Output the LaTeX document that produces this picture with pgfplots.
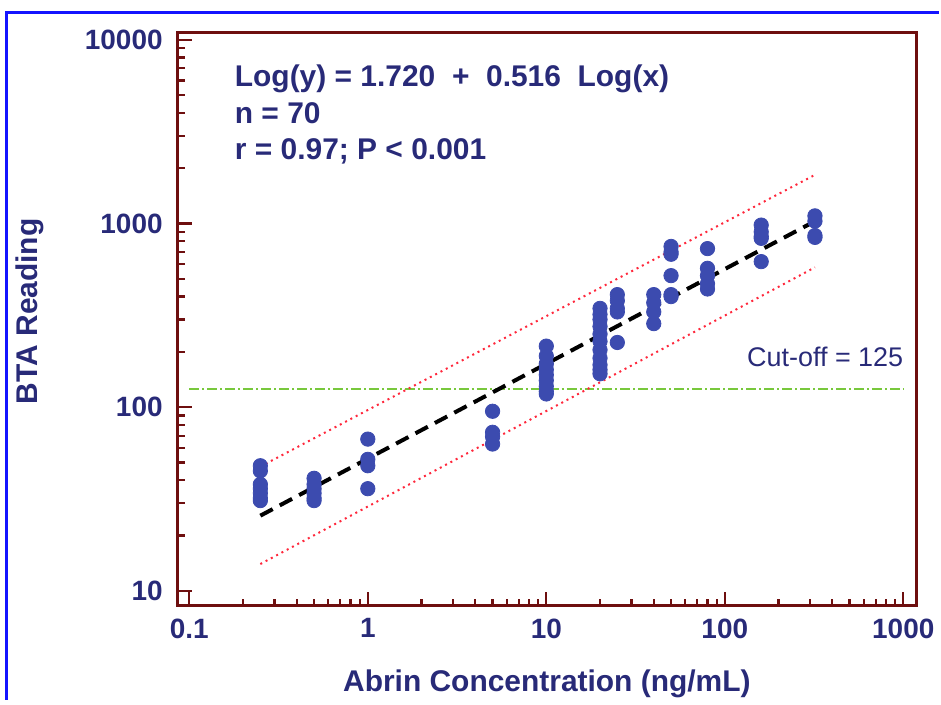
\documentclass[border=0pt]{standalone}
\usepackage{fontspec}
\setmainfont{Liberation Sans}
\usepackage{pgfplots}
\pgfplotsset{compat=1.18}
\usetikzlibrary{calc}
\definecolor{navy}{RGB}{40,42,120}
\definecolor{axred}{RGB}{110,15,15}
\definecolor{dotblue}{RGB}{60,75,175}
\definecolor{bandred}{RGB}{255,40,60}
\definecolor{cutgreen}{RGB}{120,200,60}
\definecolor{frameblue}{RGB}{20,20,255}
\pgfplotstableread{
x y
0.25 48
0.25 45
0.25 38
0.25 36
0.25 34
0.25 32
0.25 31
0.5 41
0.5 38
0.5 36
0.5 34
0.5 32
0.5 31
1 67
1 52
1 48
1 36
5 95
5 73
5 69
5 63
10 215
10 190
10 172
10 160
10 150
10 140
10 130
10 122
10 118
20 345
20 320
20 300
20 275
20 250
20 228
20 205
20 185
20 170
20 160
20 152
25 410
25 380
25 345
25 330
25 225
40 410
40 370
40 330
40 285
50 750
50 700
50 680
50 520
50 410
50 400
80 730
80 570
80 520
80 470
80 440
160 980
160 900
160 850
160 830
160 620
320 1100
320 1030
320 860
320 840
}\pts
\begin{document}
\begin{tikzpicture}
\begin{axis}[
 scale only axis, width=370pt, height=287pt,
 xmode=log, ymode=log,
 xmin=0.086, xmax=1180, ymin=8.3, ymax=10900,
 axis line style={axred, line width=1.5pt},
 tick style={axred, line width=1.1pt},
 major tick length=7pt, minor tick length=3.5pt,
 tick align=inside,
 xtick pos=bottom, ytick pos=left,
 xtick={0.1,1,10,100,1000}, xticklabels={0.1,1,10,100,1000},
 minor xtick={0.2,0.3,0.4,0.5,0.6,0.7,0.8,0.9,2,3,4,5,6,7,8,9,20,30,40,50,60,70,80,90,200,300,400,500,600,700,800,900},
 ytick={10,100,1000,10000}, yticklabels={10,100,1000,10000},
 minor ytick={20,30,40,50,60,70,80,90,200,300,400,500,600,700,800,900,2000,3000,4000,5000,6000,7000,8000,9000},
 ticklabel style={font=\fontsize{14}{16}\selectfont\bfseries, text=navy},
 xticklabel style={yshift=-3pt},
 yticklabel style={xshift=-4pt},
 xlabel={Abrin Concentration (ng/mL)},
 ylabel={BTA Reading},
 label style={font=\fontsize{15}{18}\selectfont\bfseries, text=navy},
 xlabel style={at={(axis description cs:0.5,-0.136)}, anchor=center},
 ylabel style={at={(axis description cs:-0.2,0.514)}, anchor=center},
 clip=false,
]
\addplot[cutgreen, line width=1pt, dash pattern=on 5pt off 1.5pt on 1pt off 1.5pt] coordinates {(0.1,125) (1000,125)};
\addplot[bandred, line width=1pt, dotted] coordinates {(0.25,47.5) (320,1840)};
\addplot[bandred, line width=1pt, dotted] coordinates {(0.25,14.0) (320,577)};
\addplot[only marks, mark=*, mark size=3.6pt, mark options={draw=dotblue, fill=dotblue}] table[x=x, y=y] {\pts};
\addplot[black, line width=2pt, dash pattern=on 7pt off 4pt] coordinates {(0.25,25.66) (320,1029)};
\node[anchor=west, text=navy, font=\fontsize{15}{17}\selectfont\bfseries] at (axis description cs:0.068,0.92) {Log(y) = 1.720\ \ +\ \ 0.516\ \ Log(x)};
\node[anchor=west, text=navy, font=\fontsize{15}{17}\selectfont\bfseries] at (axis description cs:0.068,0.859) {n = 70};
\node[anchor=west, text=navy, font=\fontsize{15}{17}\selectfont\bfseries] at (axis description cs:0.068,0.793) {r = 0.97; P < 0.001};
\node[anchor=east, text=navy, font=\fontsize{13.5}{16}\selectfont, xshift=3.5pt] at (axis cs:1000,188) {Cut-off = 125};
\end{axis}
\draw[frameblue, line width=1.5pt] ($(current axis.south west)+(-85.5pt,-47pt)$) |- ($(current axis.north east)+(11.5pt,10pt)$);
\path[use as bounding box] ($(current axis.south west)+(-89pt,-47pt)$) rectangle ($(current axis.north east)+(11.5pt,16.5pt)$);
\end{tikzpicture}
\end{document}
